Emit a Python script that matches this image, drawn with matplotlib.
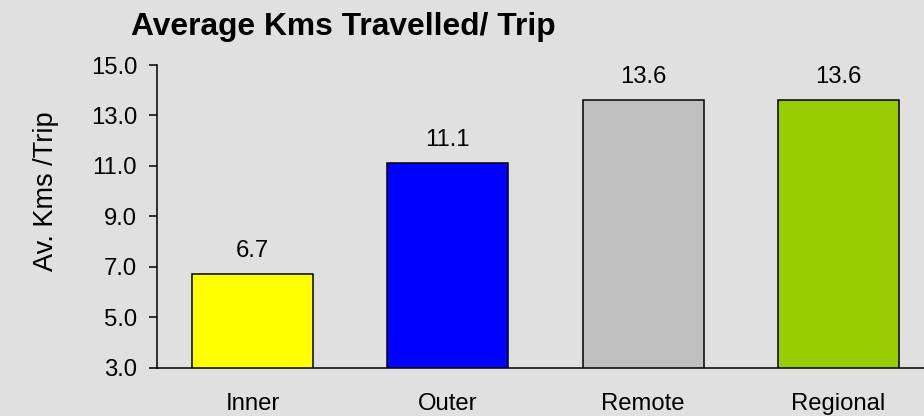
import matplotlib.pyplot as plt

# data
regions = ["Inner", "Outer", "Remote", "Regional"]
avg_kms = [6.7, 11.1, 13.6, 13.6]
bar_colors = ["#ffff00", "#0000ff", "#c0c0c0", "#99cc00"]
y_ticks = [3.0, 5.0, 7.0, 9.0, 11.0, 13.0, 15.0]

plt.rcParams["font.family"] = ["Liberation Sans", "DejaVu Sans"]
bg = "#e0e0e0"
fs = 17.2

fig = plt.figure(figsize=(9.24, 4.16), dpi=100, facecolor=bg)
ax = fig.add_axes([156.7 / 924, 48.3 / 416, 779.6 / 924, 302.7 / 416])
ax.set_facecolor(bg)

x = range(len(regions))
ax.bar(x, avg_kms, width=0.62, color=bar_colors, edgecolor="black",
       linewidth=1.1, bottom=0)

for xi, v in zip(x, avg_kms):
    ax.annotate(f"{v:.1f}", (xi, v), xytext=(0, 12.7), textcoords="offset points",
                ha="center", va="baseline", fontsize=fs)

ax.set_ylim(3, 15)
ax.set_xlim(-0.49, 3.5)
ax.set_yticks(y_ticks)
ax.set_yticklabels([f"{t:.1f}" for t in y_ticks])
ax.set_xticks(list(x))
ax.set_xticklabels(regions)

ax.tick_params(axis="y", length=5.8, width=1.1, pad=8.3, labelsize=fs)
ax.tick_params(axis="x", length=0, pad=18.5, labelsize=fs)

for side in ["top", "right"]:
    ax.spines[side].set_visible(False)
for side in ["left", "bottom"]:
    ax.spines[side].set_linewidth(1.1)
    ax.spines[side].set_color("black")

fig.text(131 / 924, 1 - 35 / 416, "Average Kms Travelled/ Trip",
         fontsize=22.9, fontweight="bold", ha="left", va="baseline")
fig.text(46 / 924, 1 - 191 / 416, "Av. Kms /Trip", rotation=90,
         fontsize=19.5, ha="center", va="center")

fig.savefig("out.png", dpi=100, facecolor=bg)
